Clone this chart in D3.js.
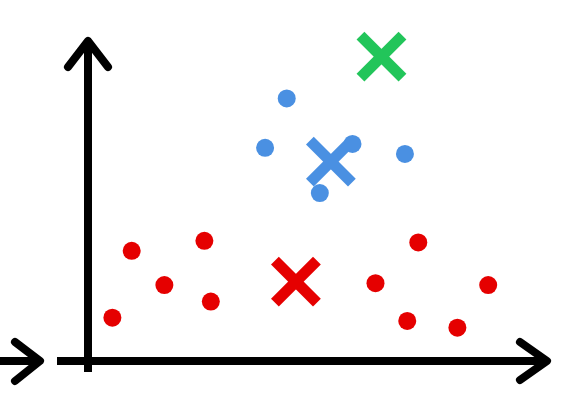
<!DOCTYPE html>
<html>
<head>
<meta charset="utf-8">
<script src="https://cdn.jsdelivr.net/npm/d3@7"></script>
<style>
  body { margin: 0; background: #fff; }
</style>
</head>
<body>
<div id="chart"></div>
<script>
// cluster data (x, y in 0..100 units)
var redX = [5.3, 9.5, 16.6, 25.3, 26.7, 62.5, 71.8, 69.4, 80.3, 87.0];
var redY = [13.4, 34.1, 23.5, 37.2, 18.4, 24.1, 36.7, 12.4, 10.3, 23.5];
var blueX = [43.2, 38.5, 57.5, 68.9, 50.4];
var blueY = [81.3, 66.0, 67.2, 64.1, 52.0];
// centroids
var centroidNames = ["red", "blue", "green"];
var centroidX = [45.2, 52.8, 63.8];
var centroidY = [24.6, 61.7, 94.2];

var svgWidth = 578;
var svgHeight = 406;
var colors = { red: "#e50000", blue: "#4a90e2", green: "#22c55a" };

var svg = d3.select("#chart")
    .append("svg")
    .attr("width", svgWidth)
    .attr("height", svgHeight);

var xScale = d3.scaleLinear().domain([0, 100]).range([88, 548]);
var yScale = d3.scaleLinear().domain([0, 100]).range([361, 38]);

// axes drawn as hand-style arrows
var axes = svg.append("g")
    .attr("stroke", "#000")
    .attr("stroke-width", 8)
    .attr("stroke-linecap", "round")
    .attr("stroke-linejoin", "round")
    .attr("fill", "none");

var x0 = xScale(0), y0 = yScale(0);
var xEnd = xScale(100), yEnd = yScale(100);

// y axis
axes.append("line").attr("x1", x0).attr("y1", y0 + 11).attr("x2", x0).attr("y2", yEnd + 4)
    .attr("stroke-linecap", "butt");
axes.append("path").attr("d", d3.line()([[x0 - 20, yEnd + 29], [x0, yEnd + 3], [x0 + 20, yEnd + 29]]));

// x axis
axes.append("line").attr("x1", x0 - 31).attr("y1", y0).attr("x2", xEnd - 2).attr("y2", y0)
    .attr("stroke-linecap", "butt");
axes.append("path").attr("d", d3.line()([[xEnd - 28, y0 - 19], [xEnd - 1, y0], [xEnd - 28, y0 + 19]]));

// extra arrow at left edge
axes.append("line").attr("x1", -5).attr("y1", y0).attr("x2", 38).attr("y2", y0)
    .attr("stroke-linecap", "butt");
axes.append("path").attr("d", d3.line()([[15, y0 - 19], [40, y0], [15, y0 + 20]]));

// points
svg.append("g").selectAll("circle")
    .data(redX.map((d, i) => [d, redY[i]]))
    .enter()
    .append("circle")
    .attr("cx", d => xScale(d[0]))
    .attr("cy", d => yScale(d[1]))
    .attr("r", 9)
    .attr("fill", colors.red);

svg.append("g").selectAll("circle")
    .data(blueX.map((d, i) => [d, blueY[i]]))
    .enter()
    .append("circle")
    .attr("cx", d => xScale(d[0]))
    .attr("cy", d => yScale(d[1]))
    .attr("r", 9)
    .attr("fill", colors.blue);

// centroid crosses
var s = 21;
var crosses = svg.append("g").selectAll("g")
    .data(centroidNames.map((n, i) => ({ name: n, x: centroidX[i], y: centroidY[i] })))
    .enter()
    .append("g")
    .attr("transform", d => `translate(${xScale(d.x)}, ${yScale(d.y)})`)
    .attr("stroke", d => colors[d.name])
    .attr("stroke-width", 11);

crosses.append("line").attr("x1", -s).attr("y1", -s).attr("x2", s).attr("y2", s);
crosses.append("line").attr("x1", -s).attr("y1", s).attr("x2", s).attr("y2", -s);
</script>
</body>
</html>
